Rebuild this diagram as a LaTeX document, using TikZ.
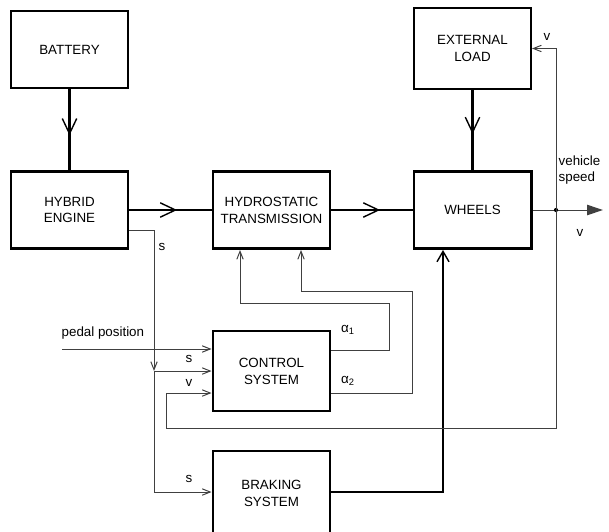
\documentclass[tikz,border=0pt]{standalone}
\usepackage{fontspec}
\setmainfont{Liberation Sans}
\usetikzlibrary{arrows.meta,decorations.markings}
\newcommand{\lbl}{\fontsize{9.5}{12}\selectfont}
\tikzset{
  blk/.style={draw, line width=2.1pt, minimum width=2.925cm, minimum height=1.925cm, align=center, font=\lbl},
  flow/.style={line width=2.1pt, postaction={decorate},
               decoration={markings, mark=at position #1 with {\arrow{Straight Barb[length=3.8mm,width=3.6mm,line width=1pt]}}}},
  flow/.default=0.57,
  sig/.style={draw=black!75, line width=0.7pt, -{Straight Barb[length=2mm,width=1.6mm,line width=0.7pt]}},
  tag/.style={font=\lbl, inner sep=1pt}
}

\begin{document}
\begin{tikzpicture}[x=0.025cm, y=-0.025cm]
\clip (0,0) rectangle (609,531);
% blocks
\node[blk] (bat) at (69.5,49.5) {BATTERY};
\node[blk] (hyb) at (69.5,210) {HYBRID\\ENGINE};
\node[blk] (hyd) at (271.5,210) {HYDROSTATIC\\TRANSMISSION};
\node[blk] (whl) at (472.5,210) {WHEELS};
\node[blk, line width=1.4pt, minimum height=2.025cm] (load) at (472.5,48.5) {EXTERNAL\\LOAD};
\node[blk, minimum height=2cm] (ctl) at (271.5,371) {CONTROL\\SYSTEM};
\node[blk, minimum height=2.1cm] (brk) at (271.5,493) {BRAKING\\SYSTEM};
% junction points
\coordinate (dot) at (556,210); \coordinate (vout) at (603,210);
\coordinate (vbot) at (556,428); \coordinate (vin) at (166,393);
\coordinate (s0) at (154,230); \coordinate (s1) at (154,371); \coordinate (s2) at (154,492);
\coordinate (ped) at (62,349);
\coordinate (a1) at (389,350); \coordinate (a1t) at (240,303);
\coordinate (a2) at (412,393); \coordinate (a2t) at (301,291);
\coordinate (bw) at (443,492);
% power flow
\draw[flow] (bat) -- (hyb);
\draw[flow=0.58] (hyb) -- (hyd);
\draw[flow=0.6] (hyd) -- (whl);
\draw[flow=0.55] (load) -- (whl);
\draw[line width=2.1pt, -{Straight Barb[length=2.6mm,width=3mm,line width=1pt]}] (brk.east |- bw) -- (bw) -- (bw |- whl.south);
% signals
\draw[sig, -{Triangle[length=4mm,width=2.6mm]}] (whl) -- (vout);
\fill (dot) circle (1.5pt);
\draw[sig] (dot) |- (load.east);
\draw[sig] (dot) -- (vbot) -| (vin) -- (ctl.west |- vin);
\draw[sig] (hyb.east |- s0) -- (s0) -- (s1);
\draw[sig] (s1) -- (ctl.west |- s1);
\draw[sig] (s1) -- (s2) -- (brk.west |- s2);
\draw[sig] (ped) -- (ctl.west |- ped);
\draw[sig] (ctl.east |- a1) -- (a1) |- (a1t) -- (a1t |- hyd.south);
\draw[sig] (ctl.east |- a2) -- (a2) |- (a2t) -- (a2t |- hyd.south);
% labels
\node[tag] (ls0) at (162,247) {s};
\node[tag] (ls1) at (189,359) {s};
\node[tag] (lv) at (189,383) {v};
\node[tag] (ls2) at (189,479) {s};
\node[tag, anchor=west] (lped) at (60,333) {pedal position};
\node[tag] (la1) at (348,330) {α\textsubscript{1}};
\node[tag] (la2) at (348,381) {α\textsubscript{2}};
\node[tag] (lvl) at (547,37) {v};
\node[tag, anchor=west, align=left, font=\fontsize{9.5}{11}\selectfont] (lspd) at (557,170) {vehicle\\speed};
\node[tag] (lvo) at (580,233) {v};
\end{tikzpicture}
\end{document}
